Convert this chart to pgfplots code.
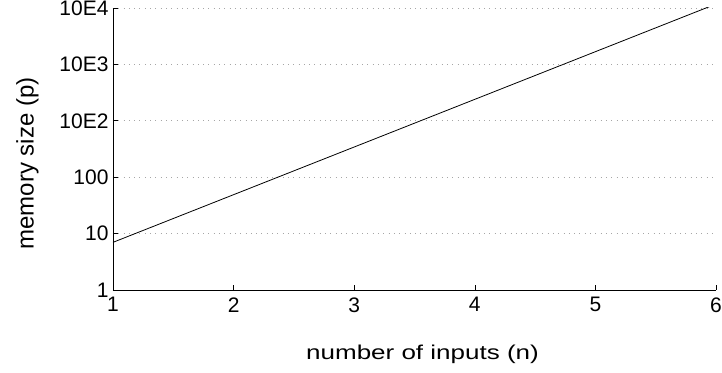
\documentclass[border=0pt]{standalone}
\usepackage{fontspec}
\setmainfont{Liberation Sans}
\usepackage{pgfplots}
\pgfplotsset{compat=1.18}
\begin{document}
\begin{tikzpicture}
\begin{axis}[
  name=ax,
  scale only axis,
  width=603pt, height=282pt,
  xmin=1, xmax=6,
  ymode=log, ymin=1, ymax=100000,
  axis x line=bottom, axis y line=left,
  axis line style={-, line width=0.8pt},
  xtick={1,2,3,4,5,6},
  xticklabels={1,2,3,4,5,6},
  ytick={1,10,100,1000,10000,100000},
  yticklabels={1,10,100,10E2,10E3,10E4},
  minor ytick={},
  yminorticks=false,
  tick align=inside,
  major tick length=5pt,
  tick style={black, line width=0.6pt},
  ymajorgrids,
  major grid style={gray!70, line width=0.8pt, dash pattern=on 0.8pt off 4.5pt},
  font=\fontsize{21}{24}\selectfont,
  xticklabel style={yshift=-4pt},
  yticklabel style={xshift=-1pt},
  xlabel={\fontsize{20}{24}\selectfont\scalebox{1.3}[1]{number of inputs (n)}},
  ylabel={\fontsize{24}{28}\selectfont memory size (p)},
  xlabel style={at={(axis description cs:0.5133,-0.227)}, anchor=center},
  ylabel style={at={(axis description cs:-0.1418,0.4486)}, anchor=center},
]
\addplot[black, line width=0.8pt, mark=none] coordinates {
  (1,7) (2,49) (3,343) (4,2401) (5,16807) (6,117649)
};
\end{axis}
\pgfresetboundingbox
\useasboundingbox ([shift={(-113pt,-82pt)}]ax.south west) rectangle ([shift={(609pt,290pt)}]ax.south west);
\end{tikzpicture}
\end{document}
